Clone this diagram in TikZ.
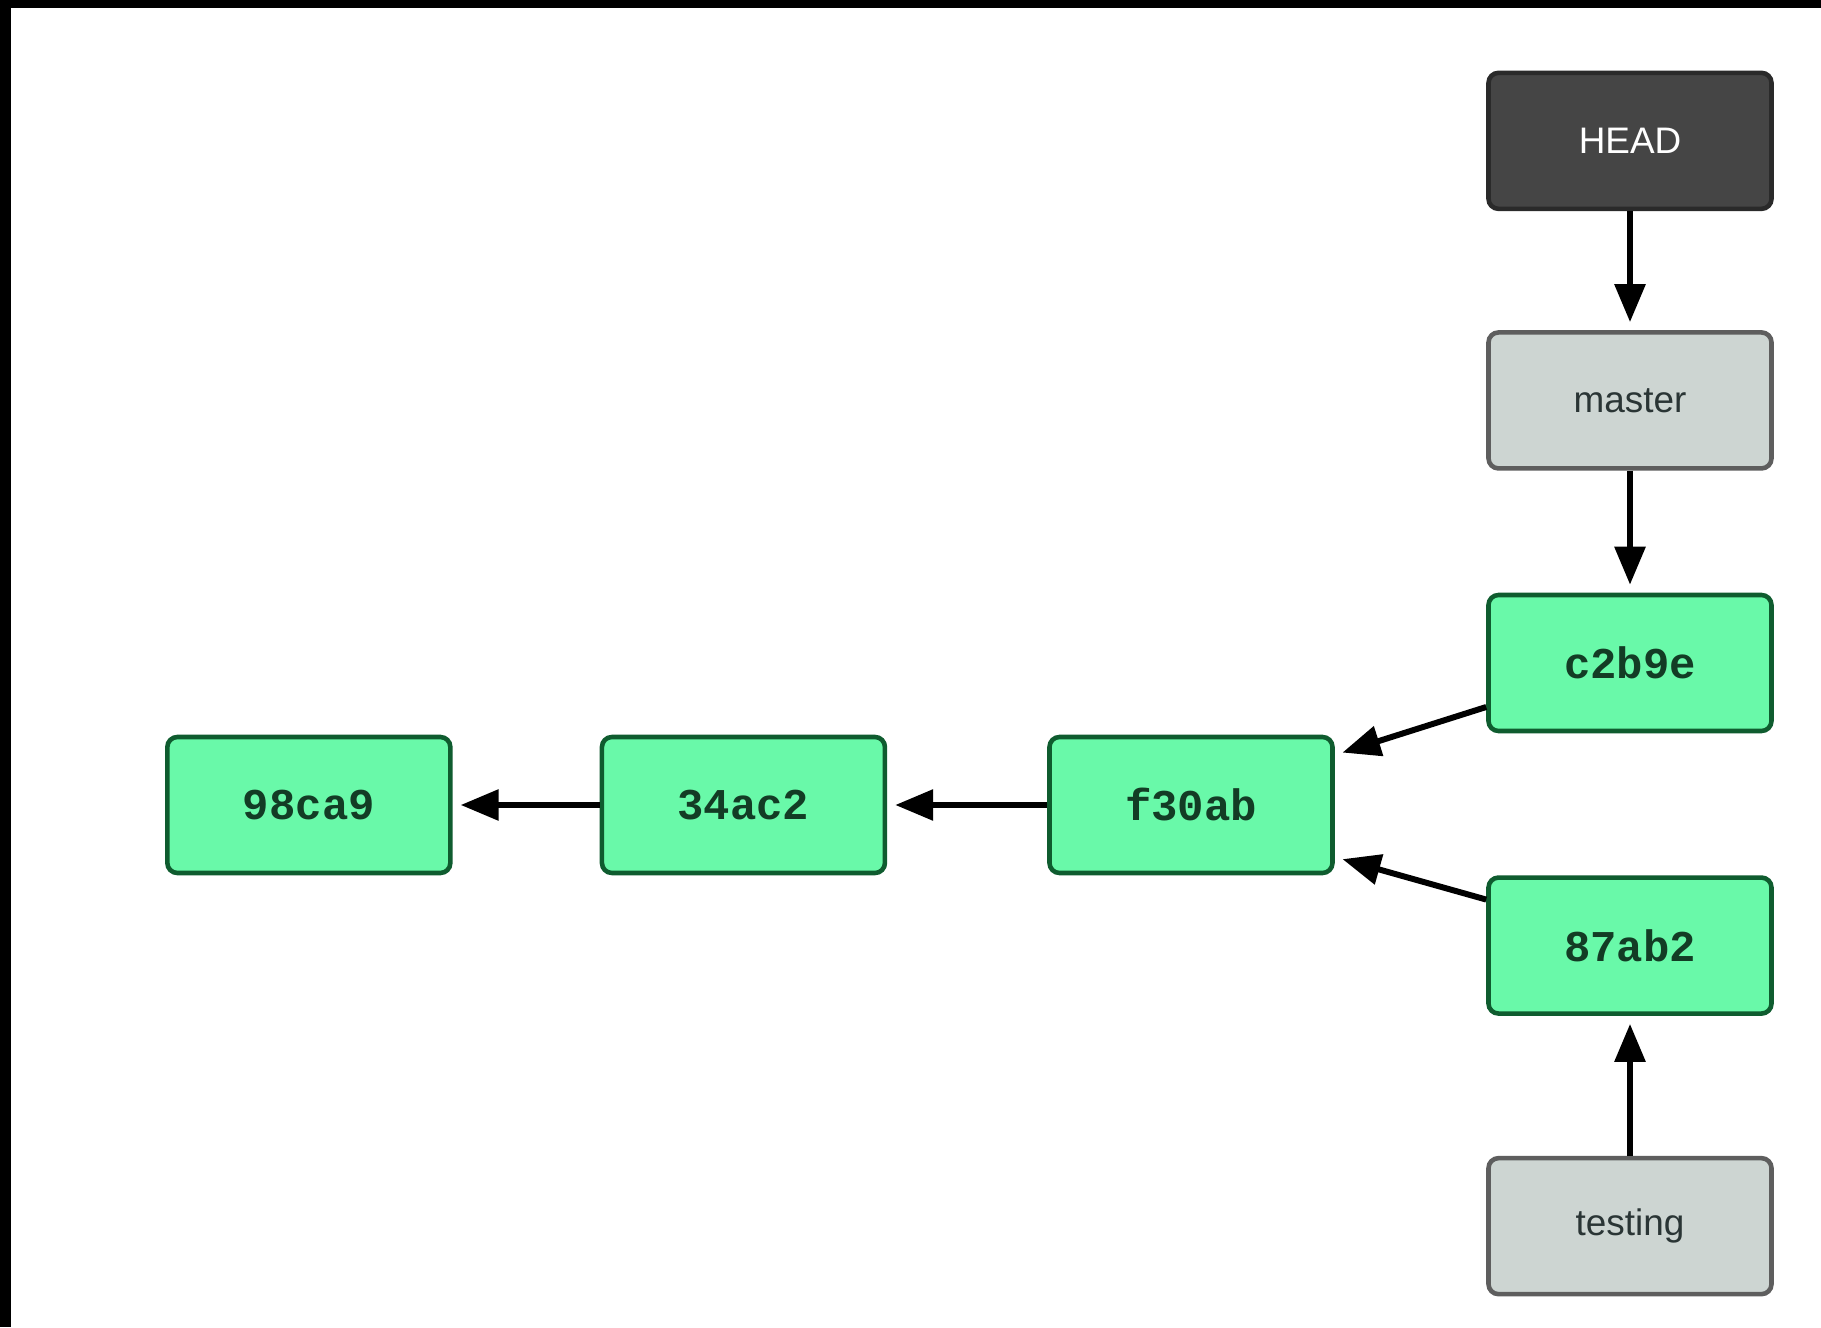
\documentclass[tikz,border=0pt]{standalone}
\usepackage{fontspec}
\usepackage{tikz}
\usetikzlibrary{arrows.meta,positioning}
\newfontfamily\reffont{Liberation Sans}
\newfontfamily\hashfont{Liberation Mono}
\definecolor{commitfill}{HTML}{69F9A9}
\definecolor{commitline}{HTML}{0F5C2F}
\definecolor{committext}{HTML}{133C25}
\definecolor{headfill}{HTML}{454545}
\definecolor{headline}{HTML}{2A2A2A}
\definecolor{branchfill}{HTML}{CDD5D2}
\definecolor{branchline}{HTML}{5E5E5E}
\definecolor{branchtext}{HTML}{2A3535}

\begin{document}
\begin{tikzpicture}[->,>={Triangle[length=0.38cm,width=0.30cm]},line width=1.7pt,shorten >=0.08cm,
    box/.style={rounded corners=0.1cm,line width=1.3pt,minimum width=2.83cm,minimum height=1.36cm,inner sep=0pt},
    commit/.style={box,draw=commitline,fill=commitfill,text=committext,font=\hashfont\bfseries\fontsize{12.5}{14}\selectfont},
    branch/.style={box,draw=branchline,fill=branchfill,text=branchtext,font=\reffont\fontsize{10.5}{12}\selectfont},
    headref/.style={box,draw=headline,fill=headfill,text=white,font=\reffont\fontsize{10.5}{12}\selectfont}]
    \useasboundingbox[fill=white] (0,0) rectangle (18.21,13.27);
    \fill[black] (0,13.19) rectangle (18.21,13.27);
    \fill[black] (0,0) rectangle (0.11,13.27);
    \node[commit] (c2b9e) at (16.30,6.64)      {c2b9e};
    \node[branch] (master) [above=1.22cm of c2b9e] {master};
    \node[headref] (HEAD) [above=1.19cm of master] {HEAD};
    \node[commit] (87ab2) [below=1.42cm of c2b9e] {87ab2};
    \node[branch] (testing) [below=1.40cm of 87ab2] {testing};
    \node[commit] (f30ab) at (11.91,5.22)      {f30ab};
    \node[commit] (34ac2) [left=1.60cm of f30ab] {34ac2};
    \node[commit] (98ca9) [left=1.47cm of 34ac2] {98ca9};
    \draw (HEAD) -- (master);
    \draw (master) -- (c2b9e);
    \draw (testing) -- (87ab2);
    \draw ([yshift=-0.44cm]c2b9e.west) -- ([yshift=0.50cm]f30ab.east);
    \draw ([yshift=0.46cm]87ab2.west) -- ([yshift=-0.52cm]f30ab.east);
    \draw (f30ab) -- (34ac2);
    \draw (34ac2) -- (98ca9);
\end{tikzpicture}
\end{document}
